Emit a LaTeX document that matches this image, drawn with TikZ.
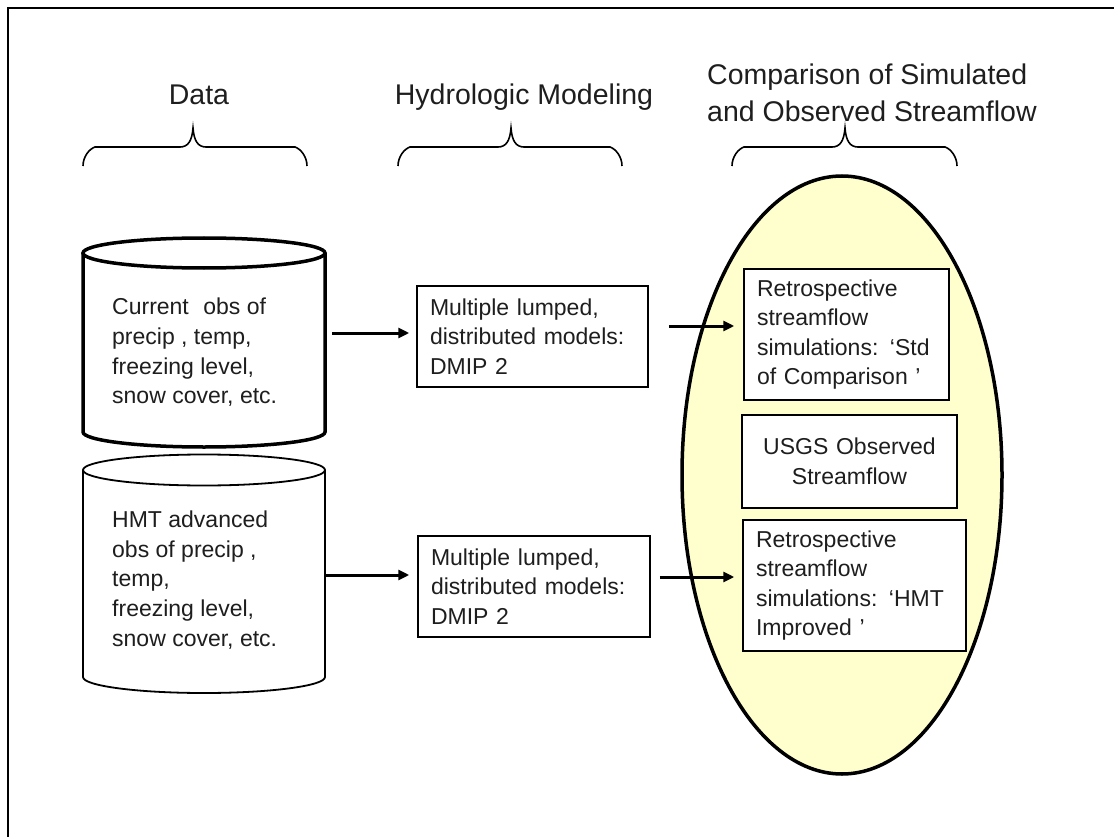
\documentclass[tikz,border=0pt]{standalone}
\usepackage{fontspec}
\setmainfont{Liberation Sans}
\usetikzlibrary{arrows.meta,shapes.geometric}
\definecolor{ovalfill}{RGB}{255,255,206}
\definecolor{ink}{RGB}{30,30,30}
% curly brace opening downwards: left x, tip x, right x
\newcommand\topbrace[3]{%
  \draw[brace] (#1,166) .. controls (#1,157) and (#1+6,149) .. (#1+12,147)
    -- (#2-13,147) .. controls (#2-5,147) and (#2-1,141) .. (#2,128)
    .. controls (#2+1,141) and (#2+5,147) .. (#2+13,147)
    -- (#3-12,147) .. controls (#3-6,149) and (#3,157) .. (#3,166);}
\begin{document}
\begin{tikzpicture}[x=1pt,y=-1pt,
  bodytext/.style={font=\fontsize{23}{29.6}\selectfont, align=left, inner sep=0pt, text=ink},
  headtext/.style={font=\fontsize{28.5}{37}\selectfont, inner sep=0pt, text=ink},
  box/.style={draw, line width=1.5pt, fill=white, font=\fontsize{23}{29.6}\selectfont,
              align=left, inner xsep=13pt, inner ysep=0pt, text=ink},
  brace/.style={line width=1.6pt},
  arr/.style={line width=3pt, -{Triangle[length=11pt,width=10pt]}},
]
\useasboundingbox (0,0) rectangle (1114,837);

% frame
\draw[line width=2.5pt] (1120,8) -| (8,845);

% column headings
\node[headtext, anchor=base] (hdata) at (199,105) {Data};
\node[headtext, anchor=base] (hmodel) at (524,105) {Hydrologic Modeling};
\node[headtext, anchor=west, align=left] (hcomp) at (707,93.3)
  {Comparison of Simulated\\and Observed Streamflow};

\topbrace{83}{193}{307}
\topbrace{398}{511}{622}
\topbrace{732}{845}{957}

% data stores
\draw[line width=3.5pt, fill=white] (83,253) -- (83,432)
  arc[start angle=180, end angle=0, x radius=121, y radius=15] -- (325,253);
\draw[line width=3.5pt] (204,253) ellipse[x radius=121, y radius=15];
\node[bodytext, anchor=west] (obs1) at (112,352.5)
  {Current\hspace{0.35em} obs of\\precip , temp,\\freezing level,\\snow cover, etc.};
\coordinate (cyl1e) at (325,333);

\draw[line width=1.8pt, fill=white] (83,470) -- (83,677)
  arc[start angle=180, end angle=0, x radius=121, y radius=16] -- (325,470);
\draw[line width=1.8pt] (204,470) ellipse[x radius=121, y radius=15.5];
\node[bodytext, anchor=west] (obs2) at (112,580)
  {HMT advanced\\obs of precip ,\\temp,\\freezing level,\\snow cover, etc.};
\coordinate (cyl2e) at (325,575);

% models
\node[box, text width=205pt, minimum height=101pt] (mod1) at (532.5,336.5)
  {Multiple lumped,\\distributed models:\\DMIP 2};
\node[box, text width=206pt, minimum height=101pt] (mod2) at (534,586.5)
  {Multiple lumped,\\distributed models:\\DMIP 2};

% comparison area
\node[ellipse, draw, line width=3.5pt, fill=ovalfill, minimum width=320pt,
      minimum height=598pt, inner sep=0pt] (oval) at (842,475) {};
\node[box, text width=179pt, minimum height=131pt] (simA) at (846.5,334.5)
  {Retrospective\\streamflow\\simulations: ‘Std\\of Comparison ’};
\node[box, align=center, text width=189pt, minimum height=93pt] (usgs) at (849.5,461.5)
  {USGS Observed\\Streamflow};
\node[box, text width=197pt, minimum height=131pt] (simC) at (854.5,585.5)
  {Retrospective\\streamflow\\simulations: ‘HMT\\Improved ’};

% connectors
\draw[arr, shorten <=7pt, shorten >=7pt] (cyl1e) -- (mod1.west |- cyl1e);
\draw[arr, shorten >=8pt] (cyl2e) -- (mod2.west |- cyl2e);
\coordinate (m1o) at ([yshift=10.5pt]mod1.east);
\draw[arr, shorten <=20pt, shorten >=9pt] (m1o) -- (simA.west |- m1o);
\coordinate (m2o) at ([yshift=9.5pt]mod2.east);
\draw[arr, shorten <=9pt, shorten >=8pt] (m2o) -- (simC.west |- m2o);
\end{tikzpicture}
\end{document}
